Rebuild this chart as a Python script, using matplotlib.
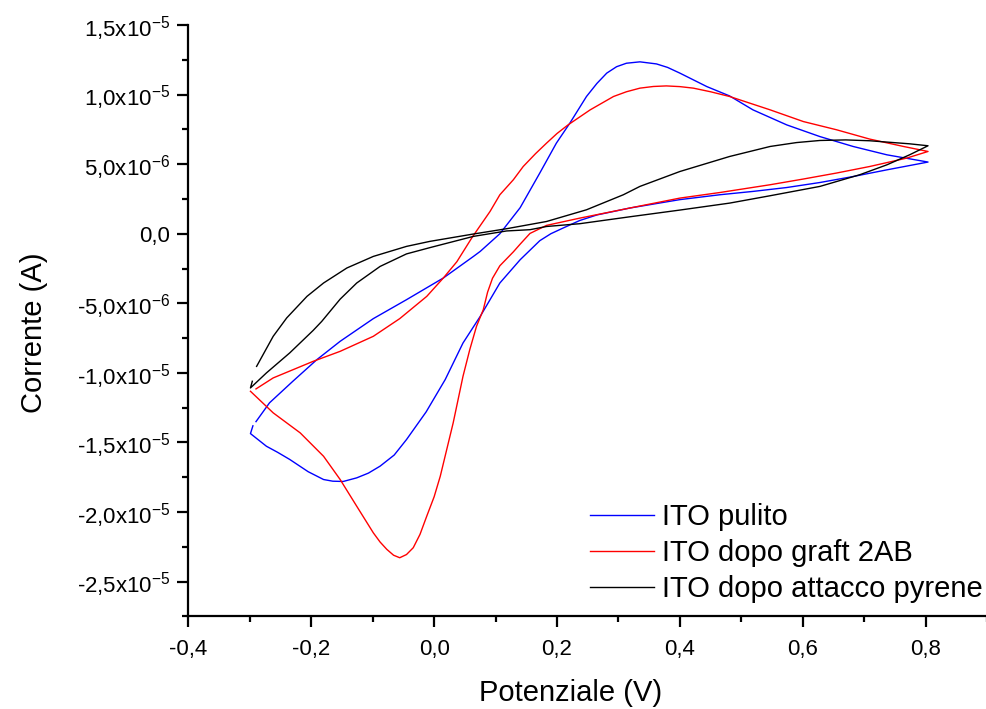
import numpy as np
import matplotlib
matplotlib.use("Agg")
import matplotlib.pyplot as plt
from matplotlib.ticker import FixedLocator, FixedFormatter, MultipleLocator

plt.rcParams['font.family'] = ['Liberation Sans', 'DejaVu Sans']
plt.rcParams['mathtext.fontset'] = 'custom'
plt.rcParams['mathtext.rm'] = 'Liberation Sans'
plt.rcParams['mathtext.it'] = 'Liberation Sans'
plt.rcParams['mathtext.default'] = 'regular'

# ---------------- data (potential in V, current in microampere) ----------------
blue_x = [-0.290, -0.268, -0.230, -0.191, -0.153, -0.099, -0.045, 0.015, 0.064, 0.075,
          0.107, 0.140, 0.172, 0.199, 0.221, 0.248, 0.265, 0.281, 0.297, 0.313,
          0.335, 0.362, 0.380, 0.400, 0.444, 0.481, 0.519, 0.574, 0.628, 0.682,
          0.737, 0.804,
          0.737, 0.682, 0.628, 0.574, 0.519, 0.465, 0.400, 0.319, 0.265, 0.237,
          0.210, 0.190, 0.172, 0.140, 0.107, 0.075, 0.047, 0.018, -0.013, -0.045,
          -0.065, -0.088, -0.107, -0.126, -0.148, -0.165, -0.180, -0.205, -0.235, -0.255,
          -0.273, -0.299, -0.295]
blue_y = [-13.5, -12.15, -10.6, -9.05, -7.73, -6.1, -4.74, -3.18, -1.63, -1.27,
          0.0, 1.87, 4.36, 6.51, 7.95, 9.86, 10.8, 11.54, 12.0, 12.25,
          12.35, 12.2, 11.95, 11.54, 10.57, 9.9, 8.9, 7.82, 6.98, 6.27,
          5.67, 5.15,
          4.59, 4.11, 3.68, 3.32, 3.04, 2.80, 2.45, 1.85, 1.35, 0.95,
          0.41, 0.0, -0.5, -1.87, -3.54, -5.94, -7.85, -10.48, -12.8, -14.79,
          -15.9, -16.7, -17.2, -17.54, -17.80, -17.78, -17.66, -17.1, -16.22, -15.7,
          -15.27, -14.36, -13.8]

red_x = [-0.290, -0.262, -0.197, -0.153, -0.099, -0.056, -0.012, 0.015, 0.037, 0.062,
         0.091, 0.107, 0.129, 0.145, 0.165, 0.183, 0.200, 0.218, 0.254, 0.292,
         0.313, 0.335, 0.357, 0.378, 0.400, 0.422, 0.450, 0.481, 0.547, 0.601,
         0.655, 0.709, 0.764, 0.804,
         0.769, 0.709, 0.655, 0.601, 0.547, 0.465, 0.400, 0.319, 0.237, 0.183,
         0.156, 0.140, 0.129, 0.118, 0.107, 0.095, 0.087, 0.080, 0.069, 0.058,
         0.047, 0.031, 0.010, 0.000, -0.012, -0.023, -0.034, -0.045, -0.056, -0.066,
         -0.077, -0.088, -0.099, -0.126, -0.153, -0.180, -0.218, -0.262, -0.299]
red_y = [-11.15, -10.36, -9.17, -8.45, -7.37, -6.10, -4.50, -3.18, -2.01, -0.25,
         1.60, 2.80, 3.88, 4.83, 5.75, 6.51, 7.2, 7.82, 8.90, 9.86,
         10.2, 10.46, 10.58, 10.62, 10.57, 10.46, 10.2, 9.86, 8.90, 8.06,
         7.47, 6.80, 6.27, 5.91,
         5.43, 4.83, 4.36, 3.93, 3.52, 2.96, 2.56, 1.85, 1.12, 0.60,
         0.02, -0.75, -1.3, -1.8, -2.3, -3.2, -4.2, -5.46, -6.65, -8.33,
         -10.24, -13.59, -17.42, -18.9, -20.29, -21.6, -22.56, -23.05, -23.28, -23.1,
         -22.68, -22.15, -21.49, -19.58, -17.66, -15.99, -14.31, -12.87, -11.32]

black_x = [-0.289, -0.262, -0.240, -0.207, -0.180, -0.142, -0.099, -0.045, -0.007, 0.064,
           0.118, 0.183, 0.248, 0.308, 0.335, 0.400, 0.481, 0.547, 0.590, 0.628,
           0.670, 0.709, 0.774, 0.804,
           0.774, 0.737, 0.693, 0.628, 0.547, 0.481, 0.400, 0.319, 0.237, 0.183,
           0.156, 0.118, 0.064, -0.007, -0.045, -0.088, -0.126, -0.153, -0.183, -0.197,
           -0.235, -0.273, -0.299, -0.296]
black_y = [-9.53, -7.37, -6.05, -4.50, -3.54, -2.46, -1.63, -0.91, -0.55, -0.02,
           0.36, 0.88, 1.72, 2.80, 3.40, 4.47, 5.55, 6.27, 6.55, 6.70,
           6.74, 6.68, 6.46, 6.32,
           5.67, 4.95, 4.24, 3.40, 2.73, 2.20, 1.70, 1.22, 0.72, 0.52,
           0.29, 0.20, -0.19, -1.0, -1.45, -2.35, -3.54, -4.7, -6.3, -6.95,
           -8.56, -10.0, -11.08, -10.6]

series_names = ["ITO pulito", "ITO dopo graft 2AB", "ITO dopo attacco pyrene"]
series_colors = ["#0000ff", "#ff0000", "#000000"]

x_ticks = [-0.4, -0.2, 0.0, 0.2, 0.4, 0.6, 0.8]
x_ticklabels = ["-0,4", "-0,2", "0,0", "0,2", "0,4", "0,6", "0,8"]
y_ticks = [-2.5e-5, -2.0e-5, -1.5e-5, -1.0e-5, -5.0e-6, 0.0, 5.0e-6, 1.0e-5, 1.5e-5]
y_ticklabels = [r"-2,5x10$^{-5}$", r"-2,0x10$^{-5}$", r"-1,5x10$^{-5}$", r"-1,0x10$^{-5}$",
                r"-5,0x10$^{-6}$", "0,0", r"5,0x10$^{-6}$", r"1,0x10$^{-5}$", r"1,5x10$^{-5}$"]

UA = 1e-6  # microampere -> ampere

# ---------------- figure ----------------
fig = plt.figure(figsize=(9.87, 7.09), dpi=100)
ax = fig.add_axes([0.1909, 0.1305, 0.8091, 0.8343])

for xs, ys, name, col in zip([blue_x, red_x, black_x], [blue_y, red_y, black_y],
                             series_names, series_colors):
    ax.plot(xs, np.array(ys) * UA, color=col, lw=1.0, label=name)

ax.set_xlim(-0.4, 0.9)
ax.set_ylim(-2.75e-5, 1.5e-5)

ax.xaxis.set_major_locator(FixedLocator(x_ticks))
ax.xaxis.set_major_formatter(FixedFormatter(x_ticklabels))
ax.xaxis.set_minor_locator(MultipleLocator(0.1))
ax.yaxis.set_major_locator(FixedLocator(y_ticks))
ax.yaxis.set_major_formatter(FixedFormatter(y_ticklabels))
ax.yaxis.set_minor_locator(MultipleLocator(2.5e-6))

for s in ['top', 'right']:
    ax.spines[s].set_visible(False)
for s in ['left', 'bottom']:
    ax.spines[s].set_linewidth(1.6)

ax.tick_params(which='major', direction='out', length=8, width=1.6, labelsize=16)
ax.tick_params(which='minor', direction='out', length=4, width=1.6)
ax.tick_params(axis='x', which='major', pad=8)
ax.tick_params(axis='y', which='major', pad=5)

ax.set_xlabel("Potenziale (V)", fontsize=21)
ax.set_ylabel("Corrente (A)", fontsize=21)
ax.xaxis.set_label_coords(0.479, -0.105)
ax.yaxis.set_label_coords(-0.176, 0.48)

leg = ax.legend(loc='upper left', bbox_to_anchor=(0.503, 0.192), frameon=False,
                fontsize=21, handlelength=2.2, handletextpad=0.28,
                borderpad=0, borderaxespad=0, labelspacing=0.28)

fig.savefig("out.png", dpi=100)
